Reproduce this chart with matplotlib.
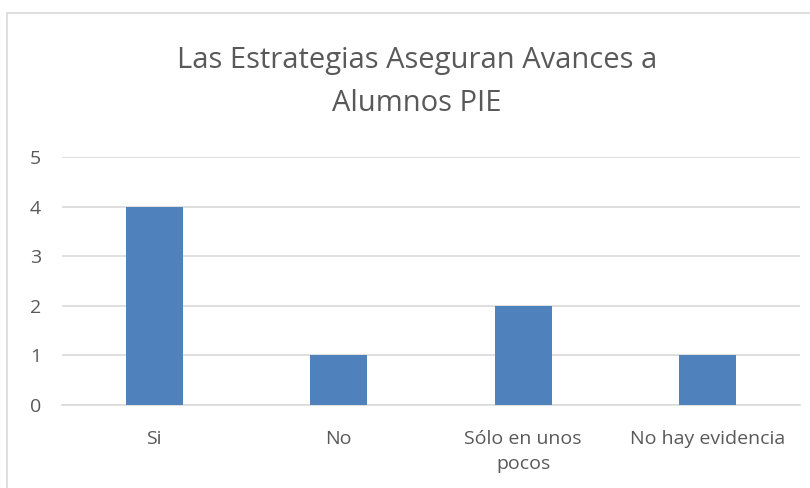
import matplotlib
matplotlib.use("Agg")
import matplotlib.pyplot as plt
from matplotlib.patches import Rectangle

categories = ["Si", "No", "Sólo en unos\npocos", "No hay evidencia"]
values = [4, 1, 2, 1]
yticks = [0, 1, 2, 3, 4, 5]
title = "Las Estrategias Aseguran Avances a\nAlumnos PIE"

plt.rcParams['font.family'] = ['Open Sans', 'DejaVu Sans']
gray = "#595959"
grid = "#D9D9D9"

fig = plt.figure(figsize=(8.10, 4.88), dpi=100)
fig.patch.set_facecolor("white")
fig.patches.append(Rectangle((7/810, -0.05), 1.1, 1 - 13/488 + 0.05,
                             transform=fig.transFigure, fill=False,
                             edgecolor=grid, linewidth=1.2))

ax = fig.add_axes([62/810, 83/488, 738/810, 248/488])
x = range(len(categories))
ax.bar(x, values, width=0.31, color="#4F81BD", zorder=3)
ax.set_xlim(-0.5, len(categories) - 0.5)
ax.set_ylim(0, 5)
ax.set_yticks(yticks)
ax.yaxis.grid(True, color=grid, linewidth=1.2, zorder=0)
for s in ["top", "right", "left"]:
    ax.spines[s].set_visible(False)
ax.spines["bottom"].set_color(grid)
ax.spines["bottom"].set_linewidth(1.2)
ax.set_xticks(list(x))
ax.set_xticklabels(categories, linespacing=1.5)
ax.tick_params(axis="both", length=0, colors=gray, labelsize=14)
ax.tick_params(axis="y", pad=15)
ax.tick_params(axis="x", pad=18)
ax.set_facecolor("white")

fig.text(417/810, 1 - 82/488, title, ha="center", va="center",
         fontsize=21, color=gray, linespacing=1.62)

fig.savefig("out.png", dpi=100)
